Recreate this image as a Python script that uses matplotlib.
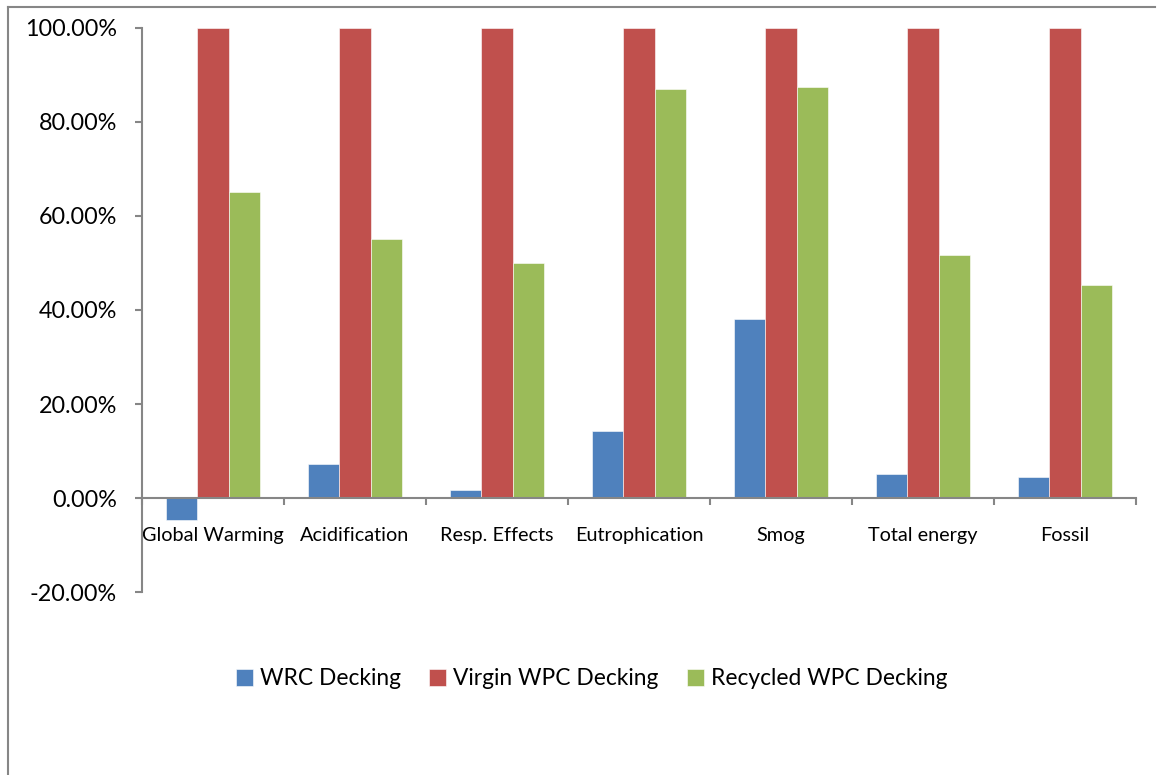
import matplotlib
matplotlib.use("Agg")
import numpy as np
import matplotlib.pyplot as plt
from matplotlib.lines import Line2D
from matplotlib.ticker import FuncFormatter

# --- DATA ---
categories = ["Global Warming", "Acidification", "Resp. Effects", "Eutrophication",
              "Smog", "Total energy", "Fossil"]
wrc = [-4.7, 7.2, 1.8, 14.3, 38.0, 5.1, 4.5]
virgin = [100, 100, 100, 100, 100, 100, 100]
recycled = [65.0, 55.0, 49.9, 87.0, 87.4, 51.6, 45.4]
series_names = ["WRC Decking", "Virgin WPC Decking", "Recycled WPC Decking"]
y_ticks = [-20, 0, 20, 40, 60, 80, 100]

# --- STYLE ---
plt.rcParams['font.family'] = ['Lato', 'DejaVu Sans']
COLORS = ['#4F81BD', '#C0504D', '#9BBB59']
AXIS_GRAY = '#868686'

fig = plt.figure(figsize=(11.58, 7.75), dpi=100)
ax = fig.add_axes([0.1226, 0.236, 0.8585, 0.728])

x = np.arange(len(categories))
group_w = 1 / 1.5
bw = group_w / 3
for i, (vals, col, name) in enumerate(zip([wrc, virgin, recycled], COLORS, series_names)):
    ax.bar(x + (i - 1) * bw, vals, bw, color=col, label=name,
           edgecolor='white', linewidth=0.4)

ax.set_xlim(-0.5, len(categories) - 0.5)
ax.set_ylim(-20, 100)
ax.set_yticks(y_ticks)
ax.yaxis.set_major_formatter(FuncFormatter(lambda v, p: f"{v:.2f}%"))

for s in ['top', 'right']:
    ax.spines[s].set_visible(False)
ax.spines['left'].set_color(AXIS_GRAY)
ax.spines['left'].set_linewidth(1.5)
ax.spines['bottom'].set_position(('data', 0))
ax.spines['bottom'].set_color(AXIS_GRAY)
ax.spines['bottom'].set_linewidth(1.5)

ax.set_xticks(x)
ax.set_xticklabels(categories, fontsize=14.3)
ax.set_xticks(np.arange(-0.5, len(categories)), minor=True)
ax.tick_params(axis='x', which='major', length=0, pad=20.5)
ax.tick_params(axis='x', which='minor', length=5, width=1.5, color=AXIS_GRAY, direction='out')
ax.tick_params(axis='y', length=5, width=1.5, color=AXIS_GRAY, labelsize=16.8, pad=13)

fig.legend(loc='center', bbox_to_anchor=(0.511, 0.124), ncol=3, frameon=False,
           fontsize=16.4, handlelength=0.75, handleheight=0.75, handletextpad=0.3,
           columnspacing=1.25)

# chart area border (top and left visible)
fig.add_artist(Line2D([8 / 1158, 1155 / 1158], [1 - 7 / 775, 1 - 7 / 775],
                      transform=fig.transFigure, color=AXIS_GRAY, lw=1.5))
fig.add_artist(Line2D([8 / 1158, 8 / 1158], [1 - 7 / 775, 0],
                      transform=fig.transFigure, color=AXIS_GRAY, lw=1.5))

fig.savefig("out.png", dpi=100)
